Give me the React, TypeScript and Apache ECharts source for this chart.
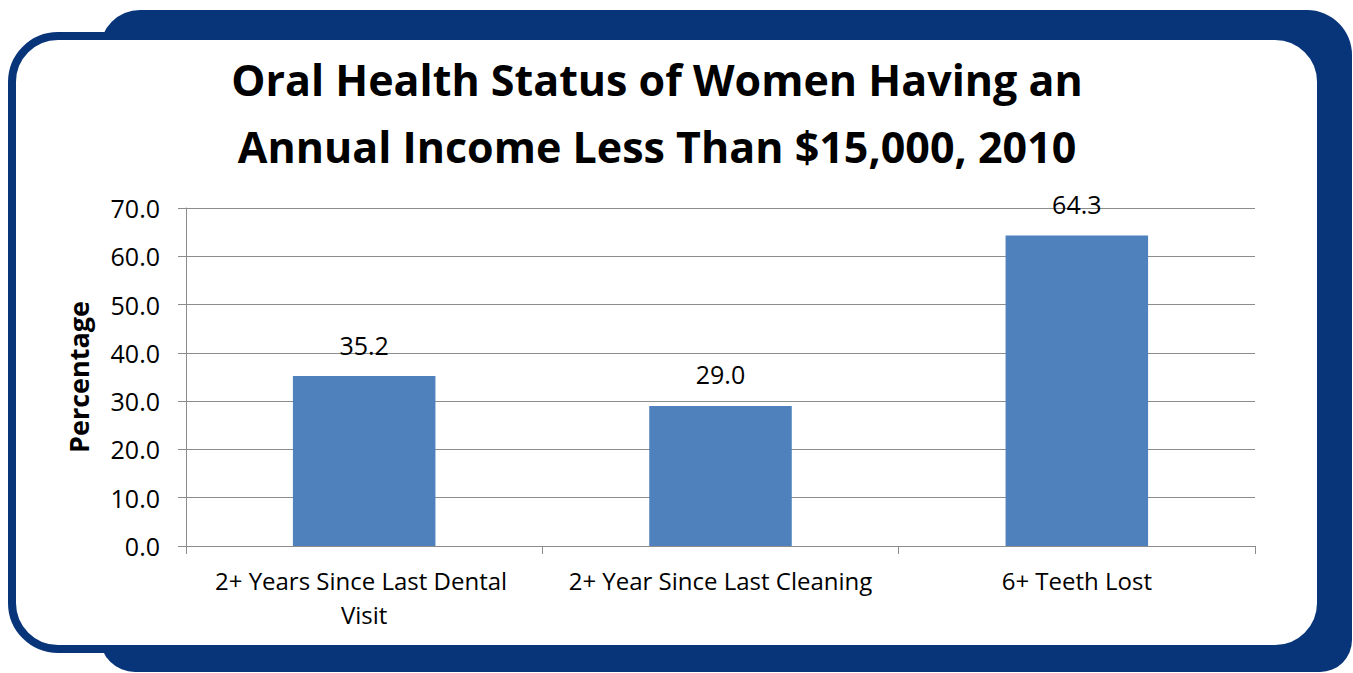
import React, { useEffect, useRef } from "react";
import * as echarts from "echarts";

const titleText = "Oral Health Status of Women Having an\nAnnual Income Less Than $15,000, 2010";
const categories = ["2+ Years Since Last Dental Visit", "2+ Year Since Last Cleaning", "6+ Teeth Lost"];
const values = [35.2, 29.0, 64.3];
const yAxisName = "Percentage";
const yMin = 0;
const yMax = 70;
const yInterval = 10;

const FONT = "'Open Sans', 'Noto Sans', sans-serif";
const NAVY = "#08357A";
const GRAY = "#8C8C8C";

export default function App() {
  const ref = useRef<HTMLDivElement>(null);
  useEffect(() => {
    if (!ref.current) return;
    const chart = echarts.init(ref.current, undefined, { renderer: "svg" });
    chart.setOption({
      animation: false,
      backgroundColor: "#ffffff",
      textStyle: { fontFamily: FONT },
      graphic: {
        elements: [
          {
            type: "rect",
            z: -100,
            silent: true,
            shape: { x: 100, y: 10, width: 1252, height: 662, r: [40, 45, 32, 35] },
            style: { fill: NAVY },
          },
          {
            type: "rect",
            z: -99,
            silent: true,
            shape: { x: 12, y: 36, width: 1309, height: 613, r: 46 },
            style: { fill: "#ffffff", stroke: NAVY, lineWidth: 8 },
          },
        ],
      },
      title: {
        text: titleText,
        left: 652,
        top: 41,
        textAlign: "center",
        textStyle: {
          fontFamily: FONT,
          fontWeight: "bold",
          fontSize: 43,
          lineHeight: 67,
          color: "#000000",
        },
      },
      grid: { left: 186, right: 98, top: 208, bottom: 127, containLabel: false },
      xAxis: {
        type: "category",
        data: categories,
        boundaryGap: true,
        axisLine: { show: true, lineStyle: { color: GRAY, width: 1 } },
        axisTick: { show: true, interval: 0, length: 8, lineStyle: { color: GRAY } },
        axisLabel: {
          interval: 0,
          margin: 17,
          width: 330,
          overflow: "break",
          fontFamily: FONT,
          fontSize: 24,
          lineHeight: 34,
          color: "#000000",
        },
        splitLine: { show: false },
      },
      yAxis: {
        type: "value",
        min: yMin,
        max: yMax,
        interval: yInterval,
        name: yAxisName,
        nameLocation: "middle",
        nameGap: 94,
        nameRotate: 90,
        nameTextStyle: { fontFamily: FONT, fontWeight: "bold", fontSize: 27, color: "#000000" },
        axisLine: { show: true, lineStyle: { color: GRAY, width: 1 } },
        axisTick: { show: true, inside: false, length: 8, lineStyle: { color: GRAY } },
        axisLabel: {
          margin: 26,
          fontFamily: FONT,
          fontSize: 25,
          color: "#000000",
          formatter: (v: number) => v.toFixed(1),
        },
        splitLine: { show: true, lineStyle: { color: GRAY, width: 1 } },
      },
      series: [
        {
          type: "bar",
          data: values,
          barWidth: "40%",
          itemStyle: { color: "#4F81BD" },
          label: {
            show: true,
            position: "top",
            distance: 19,
            fontFamily: FONT,
            fontSize: 25,
            color: "#000000",
            formatter: (p: any) => Number(p.value).toFixed(1),
          },
        },
      ],
    });
    return () => chart.dispose();
  }, []);
  return (
    <div
      ref={ref}
      style={{ position: "fixed", left: 0, top: 0, width: 1353, height: 673 }}
    />
  );
}
